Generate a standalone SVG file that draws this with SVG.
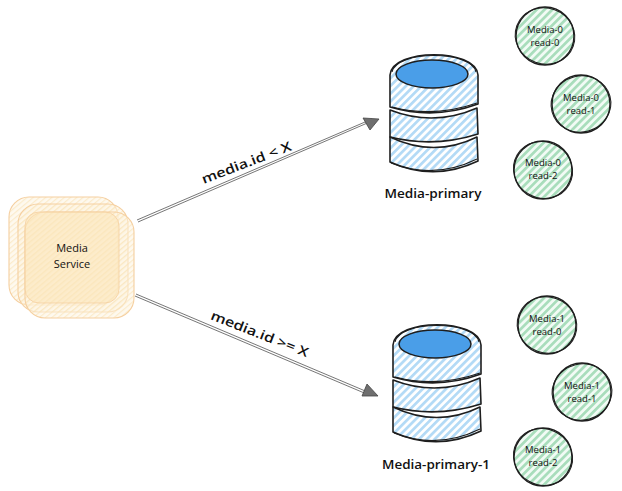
<svg xmlns="http://www.w3.org/2000/svg" width="622" height="491" viewBox="0 0 622 491">
<style>
text{font-family:"Open Sans","Liberation Sans",sans-serif;fill:#111;text-anchor:middle}
.lbl{font-size:13px;font-weight:600}
.small{font-size:9.5px}
.svc{font-size:11px;font-weight:500}
.rect{fill:url(#hO);stroke:#f5cfa0;stroke-width:1.1}
.sec{fill:url(#hB);stroke:#1e1e1e;stroke-width:1.6;stroke-linejoin:round}
.skt{fill:none;stroke:#1e1e1e;stroke-width:1.2}
.cir{fill:url(#hG);stroke:#1e1e1e;stroke-width:1.4}
.cir2{fill:none;stroke:#1e1e1e;stroke-width:1}
.conn{fill:none;stroke:#777;stroke-width:1}
.head{fill:#6f6f6f;stroke:#444;stroke-width:.8;stroke-linejoin:round}
</style>
<defs>
<pattern id="hO" width="4" height="4" patternUnits="userSpaceOnUse" patternTransform="rotate(-40)">
<rect width="4" height="4" fill="#fdf3df" fill-opacity=".5"/>
<rect width="4" height="1.2" fill="#fbe3b8" fill-opacity=".65"/>
</pattern>
<pattern id="hB" width="5.5" height="5.5" patternUnits="userSpaceOnUse" patternTransform="rotate(-45)">
<rect width="5.5" height="5.5" fill="#fff"/>
<rect width="5.5" height="2.7" fill="#b3daf6"/>
</pattern>
<pattern id="hG" width="5.5" height="5.5" patternUnits="userSpaceOnUse" patternTransform="rotate(-45)">
<rect width="5.5" height="5.5" fill="#f2fbf5"/>
<rect width="5.5" height="2.7" fill="#a8ddbb"/>
</pattern>
<g id="db">
<path class="sec" d="M390 75C392 48 476 48 478 75L478 104Q434 120 390 107Z"/>
<path class="sec" d="M390 110Q434 127 477 108L478 134Q434 148 390 137Z"/>
<path class="sec" d="M390 137Q434 158 477 137L478 161Q434 182 390 162Z"/>
<path class="skt" d="M392 72C396 50 472 50 476 72M392 107Q434 118 477 103M391 163Q434 180 477 159"/>
<ellipse cx="432" cy="74" rx="36" ry="14" fill="#4a9ee8" stroke="#1e1e1e" stroke-width="1.5"/>
</g>
</defs>
<g id="connectors">
<path class="conn" d="M137 220L372 119M138 222L372 121"/>
<path class="head" d="M379 119L363 118L370 130Z"/>
<path class="conn" d="M136 294L370 393M135 296L369 395"/>
<path class="head" d="M378 396L367 384L362 396Z"/>
<text class="lbl" transform="translate(248 167) rotate(-21)" textLength="95" lengthAdjust="spacingAndGlyphs">media.id &lt; X</text>
<text class="lbl" transform="translate(258 338) rotate(21.5)" textLength="104" lengthAdjust="spacingAndGlyphs">media.id &gt;= X</text>
</g>
<g id="media-service">
<rect class="rect" x="9" y="197" width="109" height="108" rx="20"/>
<rect class="rect" x="18" y="204" width="110" height="108" rx="20"/>
<rect class="rect" x="25" y="212" width="109" height="106" rx="20"/>
<rect x="25" y="212" width="94" height="91" rx="14" fill="#fbe6bb" fill-opacity=".6" stroke="#f5cfa0" stroke-width=".8"/>
<text class="svc" x="72" y="252">Media</text>
<text class="svc" x="72" y="268">Service</text>
</g>
<g id="media-primary">
<use href="#db"/>
<text class="lbl" x="433" y="198" textLength="97" lengthAdjust="spacingAndGlyphs">Media-primary</text>
</g>
<g id="media-primary-1">
<use href="#db" transform="translate(3 270)"/>
<text class="lbl" x="436" y="469" textLength="108" lengthAdjust="spacingAndGlyphs">Media-primary-1</text>
</g>
<g id="m0r0">
<circle class="cir" cx="545" cy="36" r="29"/>
<ellipse class="cir2" cx="545" cy="36" rx="30" ry="28" transform="rotate(20 545 36)"/>
<text class="small" x="545" y="33">Media-0</text><text class="small" x="545" y="46">read-0</text>
</g>
<g id="m0r1">
<circle class="cir" cx="581" cy="104" r="29"/>
<ellipse class="cir2" cx="581" cy="104" rx="30" ry="28" transform="rotate(-15 581 104)"/>
<text class="small" x="581" y="101">Media-0</text><text class="small" x="581" y="114">read-1</text>
</g>
<g id="m0r2">
<circle class="cir" cx="543" cy="170" r="29"/>
<ellipse class="cir2" cx="543" cy="170" rx="30" ry="28" transform="rotate(30 543 170)"/>
<text class="small" x="543" y="166">Media-0</text><text class="small" x="543" y="179">read-2</text>
</g>
<g id="m1r0">
<circle class="cir" cx="547" cy="325" r="29"/>
<ellipse class="cir2" cx="547" cy="325" rx="30" ry="28" transform="rotate(20 547 325)"/>
<text class="small" x="547" y="322">Media-1</text><text class="small" x="547" y="335">read-0</text>
</g>
<g id="m1r1">
<circle class="cir" cx="582" cy="392" r="29"/>
<ellipse class="cir2" cx="582" cy="392" rx="30" ry="28" transform="rotate(-15 582 392)"/>
<text class="small" x="582" y="389">Media-1</text><text class="small" x="582" y="402">read-1</text>
</g>
<g id="m1r2">
<circle class="cir" cx="543" cy="457" r="29"/>
<ellipse class="cir2" cx="543" cy="457" rx="30" ry="28" transform="rotate(30 543 457)"/>
<text class="small" x="543" y="453">Media-1</text><text class="small" x="543" y="466">read-2</text>
</g>
</svg>
